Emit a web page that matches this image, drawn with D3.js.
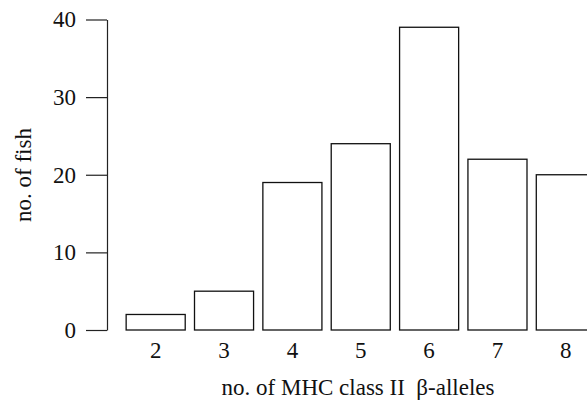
<!DOCTYPE html>
<html>
<head>
<meta charset="utf-8">
<script src="https://cdn.jsdelivr.net/npm/d3@7"></script>
<style>
  body { margin: 0; background: #fff; }
  svg { display: block; }
  .axis text { font-family: "Liberation Serif", "Times New Roman", serif; font-size: 23px; fill: #111; }
  .axis path, .axis line { stroke: #222; stroke-width: 1.2px; }
  .label { font-family: "Liberation Serif", "Times New Roman", serif; font-size: 23px; fill: #111; }
</style>
</head>
<body>
<div id="chart"></div>
<script>
// data
const alleles = ['2', '3', '4', '5', '6', '7', '8'];
const fishCounts = [2, 5, 19, 24, 39, 22, 20];
const yTicks = [0, 10, 20, 30, 40];

const width = 587;
const height = 401;

const data = alleles.map((a, i) => ({allele: a, count: fishCounts[i]}));

const svg = d3.select('#chart')
    .append('svg')
    .attr('width', width)
    .attr('height', height);

// scales
const scaleX = d3.scaleBand()
    .domain(alleles)
    .range([121.5, 600])
    .paddingInner(0.136)
    .paddingOuter(0.068);

const scaleY = d3.scaleLinear()
    .domain([0, 40])
    .range([330, 19.5]);

// y axis
const axisY = d3.axisLeft(scaleY)
    .tickValues(yTicks)
    .tickSize(21)
    .tickSizeOuter(0)
    .tickPadding(10);

svg.append('g')
    .attr('class', 'axis axis-y')
    .attr('transform', 'translate(107,0)')
    .call(axisY);

// x axis: labels only, no line
const axisX = d3.axisBottom(scaleX)
    .tickSize(0)
    .tickPadding(12);

const axisXNode = svg.append('g')
    .attr('class', 'axis axis-x')
    .attr('transform', `translate(0,${scaleY(0)})`)
    .call(axisX);
axisXNode.select('.domain').remove();

// bars
svg.selectAll('.bin')
    .data(data)
    .enter()
    .append('rect')
    .attr('class', 'bin')
    .attr('x', d => scaleX(d.allele))
    .attr('y', d => scaleY(d.count))
    .attr('width', scaleX.bandwidth())
    .attr('height', d => scaleY(0) - scaleY(d.count))
    .attr('fill', '#fff')
    .attr('stroke', '#111')
    .attr('stroke-width', 1.3);

// axis titles
svg.append('text')
    .attr('class', 'label')
    .attr('x', 358)
    .attr('y', 395)
    .attr('text-anchor', 'middle')
    .text('no. of MHC class II \u00a0\u03b2-alleles');

svg.append('text')
    .attr('class', 'label')
    .attr('transform', 'translate(31,175) rotate(-90)')
    .attr('text-anchor', 'middle')
    .text('no. of fish');
</script>
</body>
</html>
